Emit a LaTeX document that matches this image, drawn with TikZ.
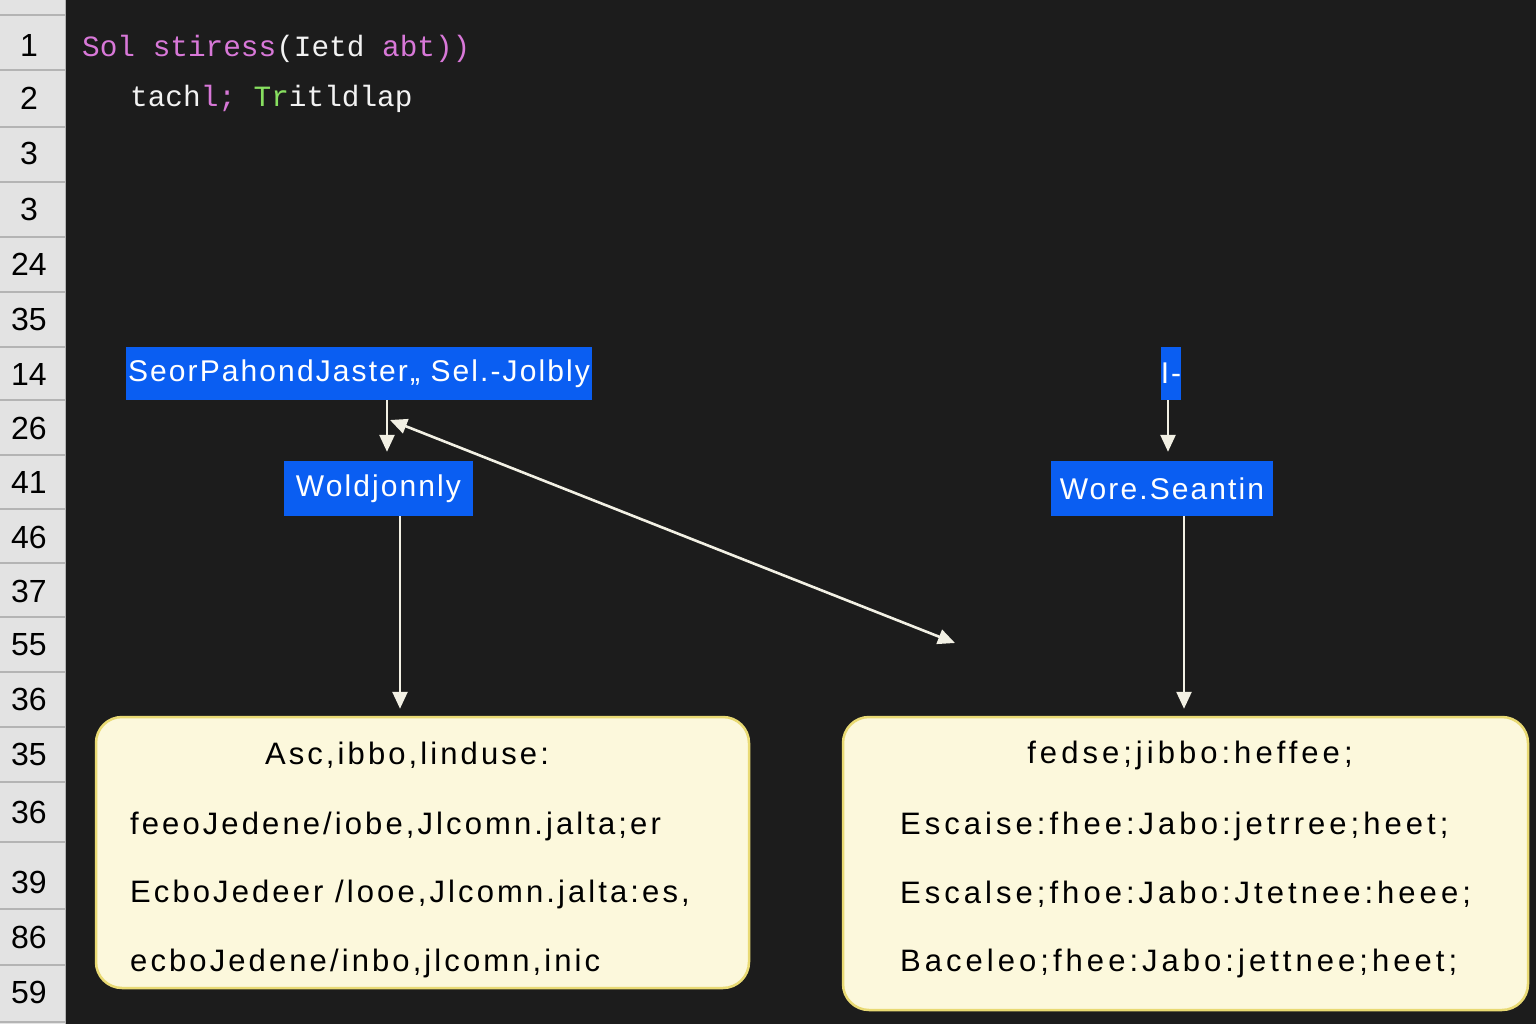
\documentclass[tikz,border=0pt]{standalone}
\usepackage{fontspec}
\setmainfont{Liberation Sans}
\newfontfamily\codefont{Liberation Mono}
\usetikzlibrary{arrows.meta,calc}
\definecolor{bgc}{HTML}{1C1C1C}
\definecolor{gutc}{HTML}{E3E3E3}
\definecolor{gutl}{HTML}{B4B4B4}
\definecolor{bluec}{HTML}{0A5EF2}
\definecolor{creamc}{HTML}{FCF8DC}
\definecolor{creaml}{HTML}{E9DA74}
\definecolor{pinkc}{HTML}{D878D8}
\definecolor{greenc}{HTML}{88E060}
\definecolor{arrc}{HTML}{F2F0E4}
\definecolor{codew}{HTML}{F2F2F2}
\tikzset{
  bluebox/.style={fill=bluec, text=white, inner sep=0pt, font=\fontsize{30}{30}\selectfont\addfontfeature{LetterSpace=7}},
  notebox/.style={fill=creamc, draw=creaml, line width=2.5pt, rounded corners=26pt, inner sep=0pt},
  notetextl/.style={text=black, inner sep=0pt, font=\fontsize{31}{31}\selectfont\addfontfeature{LetterSpace=10}},
  notetextr/.style={text=black, inner sep=0pt, font=\fontsize{31}{31}\selectfont\addfontfeature{LetterSpace=13}},
  lnum/.style={text=black, inner sep=0pt, font=\fontsize{32}{32}\selectfont},
  arr/.style={draw=arrc, line width=2.6pt, -{Triangle[length=17pt,width=15pt]}},
  darr/.style={draw=arrc, line width=2.6pt, {Triangle[length=17pt,width=15pt]}-{Triangle[length=17pt,width=15pt]}},
  codeline/.style={inner sep=0pt, anchor=west, font=\codefont\fontsize{29.4}{29.4}\selectfont}
}
\begin{document}
\begin{tikzpicture}[x=1pt,y=-1pt]
\useasboundingbox (0,0) rectangle (1536,1024);
\fill[bgc] (0,0) rectangle (1536,1024);
% gutter
\fill[gutc] (0,0) rectangle (65,1024);
\draw[gutl, line width=1pt] (65,0) -- (65,1024);
\foreach \yy in {15,70,127,182,237,292,347,400,455,509,563,617,672,727,782,842,909,965,1022}
  \draw[gutl, line width=1.5pt] (0,\yy) -- (65,\yy);
\foreach \nn/\yy [count=\i] in {1/45,2/98,3/153,3/209,24/264,35/319,14/374,26/428,41/482,46/537,37/591,55/645,36/699,35/754,36/812,39/882,86/937,59/992}
  \node[lnum] (ln\i) at (29,\yy) {\nn};
% code lines
\node[codeline, text=codew] (code1) at (82,49) {\textcolor{pinkc}{Sol stiress}(Ietd \textcolor{pinkc}{abt))}};
\node[codeline, text=codew] (code2) at (130,99) {tach\textcolor{pinkc}{l;} \textcolor{greenc}{Tr}itldlap};
% blue boxes
\node[bluebox, minimum width=466pt, minimum height=53pt] (b1) at (359,373.5) {SeorPahondJaster,, Sel.-Jolbly};
\node[bluebox, minimum width=189pt, minimum height=55pt] (b2) at (378.5,488.5) {Woldjonnly};
\node[bluebox, minimum width=20pt, minimum height=53pt] (b3) at (1171,373.5) {I-};
\node[bluebox, minimum width=222pt, minimum height=55pt] (b4) at (1162,488.5) {Wore.Seantin};
% note boxes
\node[notebox, minimum width=653pt, minimum height=271pt] (n1) at (422.5,852.5) {};
\node[notebox, minimum width=685pt, minimum height=293pt] (n2) at (1185.5,863.5) {};
\node[notetextl] (n1t) at (407,755) {Asc,ibbo,linduse:};
\node[notetextl, anchor=west] (n1a) at (130,826) {feeoJedene/iobe,Jlcomn.jalta;er};
\node[notetextl, anchor=west] (n1b) at (130,894) {EcboJedeer /looe,Jlcomn.jalta:es,};
\node[notetextl, anchor=west] (n1c) at (130,963) {ecboJedene/inbo,jlcomn,inic};
\node[notetextr] (n2t) at (1190,755) {fedse;jibbo:heffee;};
\node[notetextr, anchor=west] (n2a) at (900,826) {Escaise:fhee:Jabo:jetrree;heet;};
\node[notetextr, anchor=west] (n2b) at (900,894) {Escalse;fhoe:Jabo:Jtetnee:heee;};
\node[notetextr, anchor=west] (n2c) at (900,963) {Baceleo;fhee:Jabo:jettnee;heet;};
% connectors
\coordinate (xa) at (387,0);
\coordinate (xb) at (400,0);
\coordinate (xc) at (1168,0);
\coordinate (xd) at (1184,0);
\draw[arr] (xa |- b1.south) -- ($(xa |- b2.north)+(0,-9)$);
\draw[arr, shorten >=7pt] (xb |- b2.south) -- (xb |- n1.north);
\draw[arr] (xc |- b3.south) -- ($(xc |- b4.north)+(0,-9)$);
\draw[arr, shorten >=7pt] (xd |- b4.south) -- (xd |- n2.north);
\coordinate (dtop) at (390,420);
\coordinate (dbot) at (955,643);
\draw[darr] (dtop) -- (dbot);
\end{tikzpicture}
\end{document}
